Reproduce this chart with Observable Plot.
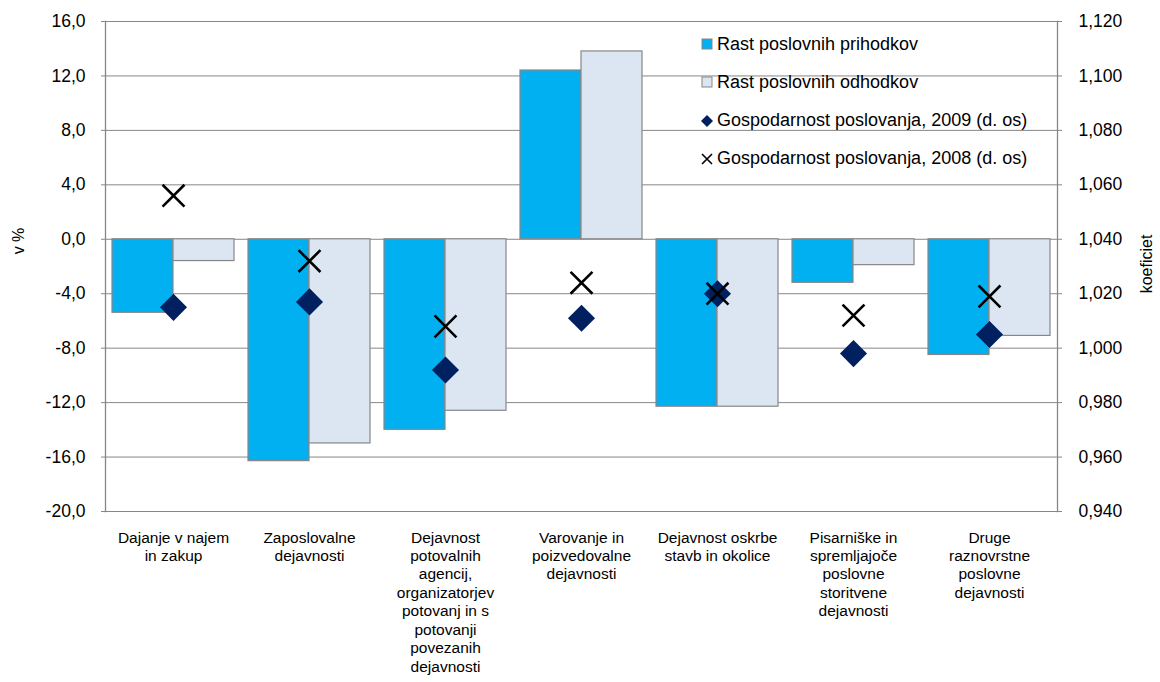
<!DOCTYPE html>
<html>
<head>
<meta charset="utf-8">
<script src="https://cdn.jsdelivr.net/npm/d3@7"></script>
<script src="https://cdn.jsdelivr.net/npm/@observablehq/plot@0.6"></script>
<style>
  html, body { margin: 0; padding: 0; background: #fff; }
  #wrap { position: relative; width: 1160px; height: 682px; font-family: "Liberation Sans", Arial, sans-serif; }
  .legend { position: absolute; left: 700px; top: 30px; font-size: 18px; color: #000; }
  .legend .row { position: absolute; left: 0; height: 28px; white-space: nowrap; display: flex; align-items: center; }
  .legend .sym { width: 14px; height: 14px; margin-right: 3px; display: inline-block; }
  .ytitle { position: absolute; font-size: 16px; color: #000; white-space: nowrap; transform-origin: center center; }
</style>
</head>
<body>
<div id="wrap"></div>
<script>
const categories = [
  "Dajanje v najem\nin zakup",
  "Zaposlovalne\ndejavnosti",
  "Dejavnost\npotovalnih\nagencij,\norganizatorjev\npotovanj in s\npotovanji\npovezanih\ndejavnosti",
  "Varovanje in\npoizvedovalne\ndejavnosti",
  "Dejavnost oskrbe\nstavb in okolice",
  "Pisarniške in\nspremljajoče\nposlovne\nstoritvene\ndejavnosti",
  "Druge\nraznovrstne\nposlovne\ndejavnosti"
];
const seriesNames = ["Rast poslovnih prihodkov", "Rast poslovnih odhodkov"];
const prihodki = [-5.4, -16.3, -14.0, 12.4, -12.3, -3.2, -8.5];
const odhodki = [-1.6, -15.0, -12.6, 13.8, -12.3, -1.9, -7.1];
const gosp2009 = [1.015, 1.017, 0.992, 1.011, 1.020, 0.998, 1.005];
const gosp2008 = [1.056, 1.032, 1.008, 1.024, 1.020, 1.012, 1.019];
const leftTicks = [-20, -16, -12, -8, -4, 0, 4, 8, 12, 16];

// right axis (coefficient) mapped onto the left axis scale: 1,040 <-> 0 ; 0,020 <-> 4
const toLeft = v => (v - 1.04) * 200;
const fromLeft = y => y / 200 + 1.04;

const bars = [];
categories.forEach((c, i) => {
  bars.push({cat: c, series: seriesNames[0], value: prihodki[i]});
  bars.push({cat: c, series: seriesNames[1], value: odhodki[i]});
});
const pts2009 = categories.map((c, i) => ({cat: c, v: gosp2009[i]}));
const pts2008 = categories.map((c, i) => ({cat: c, v: gosp2008[i]}));

const gridColor = "#878787";
const fmtL = d => d3.format(".1f")(d).replace(".", ",").replace("−", "-");
const fmtR = d => d3.format(".3f")(fromLeft(d)).replace(".", ",");

const chart = Plot.plot({
  width: 1160,
  height: 682,
  marginLeft: 103,
  marginRight: 101,
  marginTop: 21,
  marginBottom: 171,
  style: {fontFamily: "'Liberation Sans', Arial, sans-serif", fontSize: "17.5px", color: "#000", background: "#fff"},
  fx: {domain: categories, padding: 0, axis: null},
  x: {domain: seriesNames, paddingInner: 0, paddingOuter: 0.11, axis: null},
  y: {domain: [-20, 16], axis: null},
  color: {domain: seriesNames, range: ["#00B0F0", "#DCE6F2"]},
  marks: [
    Plot.gridY(leftTicks, {stroke: gridColor, strokeOpacity: 1, strokeWidth: 1}),
    Plot.frame({anchor: "left", facetAnchor: "left", stroke: gridColor, strokeWidth: 1.3}),
    Plot.frame({anchor: "right", facetAnchor: "right", stroke: gridColor, strokeWidth: 1.3}),
    Plot.axisY(leftTicks, {anchor: "left", tickSize: 4, tickPadding: 16, tickFormat: fmtL, label: null, stroke: gridColor}),
    Plot.axisY(leftTicks, {anchor: "right", tickSize: 4, tickPadding: 17, tickFormat: fmtR, label: null, stroke: gridColor}),
    Plot.barY(bars, {fx: "cat", x: "series", y: "value", fill: "series", stroke: gridColor, strokeWidth: 1.2}),
    Plot.dot(pts2009, {fx: "cat", y: d => toLeft(d.v), symbol: "diamond2", r: 12.2, fill: "#002060", stroke: "none", frameAnchor: "middle"}),
    Plot.dot(pts2008, {fx: "cat", y: d => toLeft(d.v), symbol: "times", r: 10, stroke: "#000", strokeWidth: 2.6, frameAnchor: "middle"}),
    Plot.text(categories, {fx: d => d, text: d => d, frameAnchor: "bottom", lineAnchor: "top", dy: 18, fontSize: 15.5, lineHeight: 1.19, fill: "#000"})
  ]
});

const wrap = document.getElementById("wrap");
wrap.appendChild(chart);

// axis titles
const t1 = document.createElement("div");
t1.className = "ytitle";
t1.textContent = "v %";
t1.style.left = "6px"; t1.style.top = "232px";
t1.style.transform = "rotate(-90deg)";
wrap.appendChild(t1);
const t2 = document.createElement("div");
t2.className = "ytitle";
t2.textContent = "koeficiet";
t2.style.left = "1118px"; t2.style.top = "255px";
t2.style.transform = "rotate(-90deg)";
wrap.appendChild(t2);

// legend
const legendItems = [
  {label: "Rast poslovnih prihodkov", sym: `<svg class="sym" viewBox="0 0 14 14"><rect x="2" y="2" width="10" height="10" fill="#00B0F0" stroke="${gridColor}"/></svg>`},
  {label: "Rast poslovnih odhodkov", sym: `<svg class="sym" viewBox="0 0 14 14"><rect x="2" y="2" width="10" height="10" fill="#DCE6F2" stroke="${gridColor}"/></svg>`},
  {label: "Gospodarnost poslovanja, 2009 (d. os)", sym: `<svg class="sym" viewBox="0 0 14 14"><polygon points="7,1 13,7 7,13 1,7" fill="#002060"/></svg>`},
  {label: "Gospodarnost poslovanja, 2008 (d. os)", sym: `<svg class="sym" viewBox="0 0 14 14"><path d="M2,2L12,12M2,12L12,2" stroke="#000" stroke-width="1.6"/></svg>`}
];
const leg = document.createElement("div");
leg.className = "legend";
legendItems.forEach((it, i) => {
  const row = document.createElement("div");
  row.className = "row";
  row.style.top = (i * 38.3) + "px";
  row.innerHTML = it.sym + "<span>" + it.label + "</span>";
  leg.appendChild(row);
});
wrap.appendChild(leg);
</script>
</body>
</html>
